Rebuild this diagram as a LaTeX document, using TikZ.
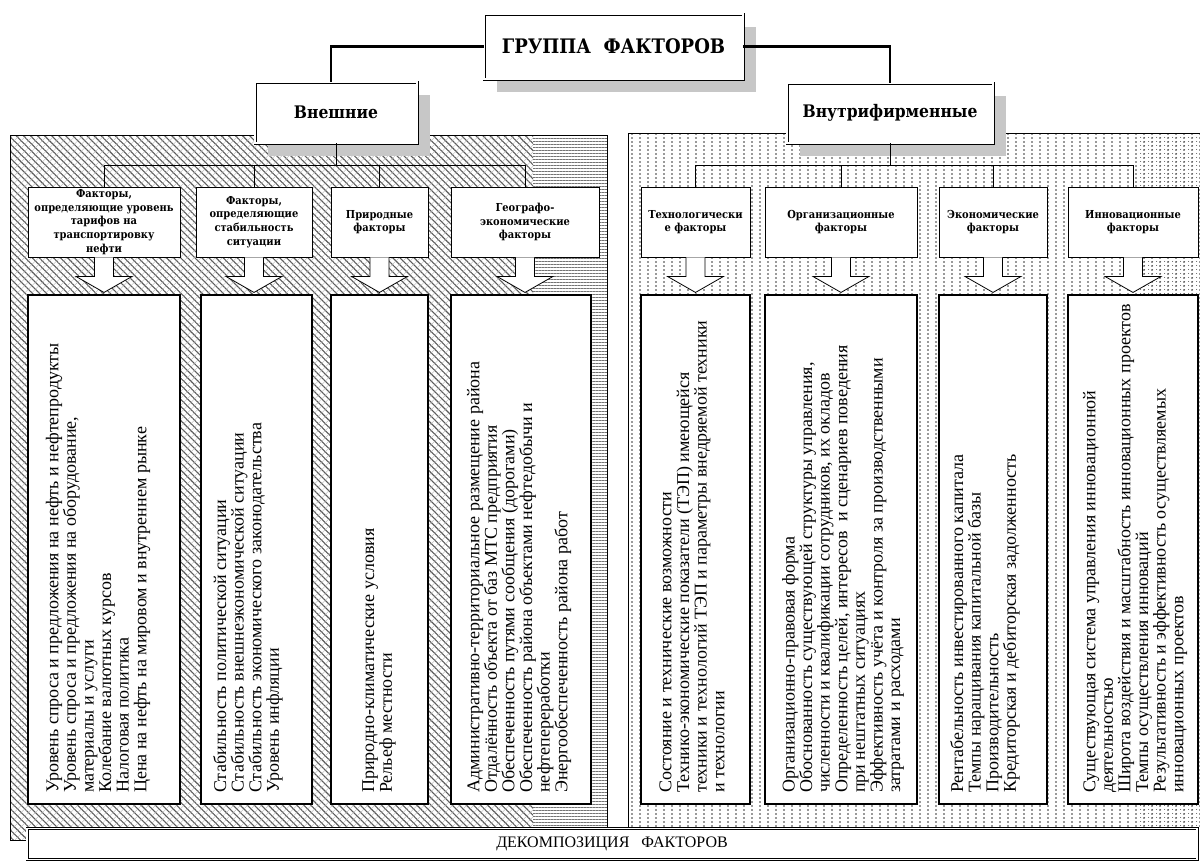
\documentclass[tikz,border=0pt]{standalone}
\usepackage{fontspec}
\setmainfont{Liberation Serif}
\newfontfamily\bserif{DejaVu Serif Condensed}
\usetikzlibrary{patterns.meta,shadows}
\begin{document}
\begin{tikzpicture}[x=1pt,y=-1pt,
  bigbox/.style={draw, double, double distance=1.4pt, line width=0.8pt, fill=white, inner sep=0pt,
    font=\bserif\bfseries\fontsize{17.3}{21}\selectfont,
    drop shadow={shadow xshift=13pt, shadow yshift=-13pt, fill=black!22, opacity=1}},
  catbox/.style={draw, fill=white, line width=0.9pt, inner sep=0pt, align=center,
    minimum height=70pt, font=\bserif\bfseries\fontsize{11}{13.6}\selectfont},
  contbox/.style={draw, fill=white, line width=1.1pt, inner sep=0pt, minimum height=509pt},
  conttext/.style={rotate=90, anchor=west, inner sep=0pt, align=left,
    font=\fontsize{18}{17.6}\selectfont},
  thickconn/.style={line width=2.4pt},
  thinconn/.style={line width=0.8pt},
  panelborder/.style={draw=black, line width=0.8pt},
  barrow/.pic={\draw[fill=white, line width=0.8pt] (-9.5,0) -- (-9.5,19) -- (-28,19) -- (0,35) -- (28,19) -- (9.5,19) -- (9.5,0);}
]
\useasboundingbox (0,0) rectangle (1200,862);
\fill[white] (0,0) rectangle (1200,862);

% ---------- left panel (hatched)
\fill[white] (10,135) rectangle (607,840);
\pattern[pattern={Lines[angle=-45,distance=5pt,line width=1.1pt]}, pattern color=black!65] (10,135) rectangle (533,840);
\pattern[pattern={Lines[angle=45,distance=5pt,line width=0.35pt]}, pattern color=black!30] (10,135) rectangle (533,840);
\pattern[pattern={Lines[angle=0,distance=3pt,line width=1pt]}, pattern color=black!55] (533,135) rectangle (607,840);
\draw[panelborder] (10,135) rectangle (607,840);

% ---------- right panel (dotted)
\fill[white] (628,133) rectangle (1203,828);
\pattern[pattern={Dots[distance=8pt,radius=0.8pt]}, pattern color=black!80] (628,133) rectangle (1203,828);
\pattern[pattern={Dots[distance=8pt,radius=0.8pt,xshift=0pt,yshift=4pt]}, pattern color=black!80] (628,133) rectangle (1203,828);
\pattern[pattern={Dots[distance=4pt,radius=0.6pt,xshift=1pt,yshift=1pt]}, pattern color=black!65] (1140,133) rectangle (1203,828);
\draw[panelborder] (628,828) -- (628,133) -- (1203,133);

% ---------- top level
\node[bigbox, minimum width=259pt, minimum height=65pt, font=\bserif\bfseries\fontsize{20}{24}\selectfont] (g) at (613.5,46.5) {ГРУППА\ \ ФАКТОРОВ};
\node[bigbox, minimum width=162pt, minimum height=61pt] (vn) at (336,112.5) {Внешние};
\node[bigbox, minimum width=206pt, minimum height=60pt] (vf) at (890,113) {Внутрифирменные};
\draw[thickconn] (g.west) -| ([xshift=-5pt]vn.north);
\draw[thickconn] (g.east) -| (vf.north);

% ---------- left category boxes
\node[catbox, minimum width=152pt] (L1) at (104,222) {Факторы,\\определяющие уровень\\тарифов на\\транспортировку\\нефти};
\node[catbox, minimum width=116pt] (L2) at (254,222) {Факторы,\\определяющие\\стабильность\\ситуации};
\node[catbox, minimum width=97pt] (L3) at (379.5,222) {Природные\\факторы};
\node[catbox, minimum width=148pt] (L4) at (525,222) {Географо-\\экономические\\факторы};

\path (L1.north) ++(0,-21) coordinate (busL);
\draw[thinconn] (vn.south) -- (vn.south |- busL);
\draw[thinconn] (L1.north) -- (busL) -| (L4.north);
\draw[thinconn] (L2.north) -- (L2.north |- busL);
\draw[thinconn] (L3.north) -- (L3.north |- busL);

% ---------- right category boxes
\node[catbox, minimum width=109pt] (R1) at (695.5,222) {Технологически\\е факторы};
\node[catbox, minimum width=152pt] (R2) at (841,222) {Организационные\\факторы};
\node[catbox, minimum width=108pt] (R3) at (993,222) {Экономические\\факторы};
\node[catbox, minimum width=130pt] (R4) at (1133,222) {Инновационные\\факторы};

\path (R1.north) ++(0,-21) coordinate (busR);
\draw[thinconn] (vf.south) -- (vf.south |- busR);
\draw[thinconn] (R1.north) -- (busR) -| (R4.north);
\draw[thinconn] (R2.north) -- (R2.north |- busR);
\draw[thinconn] (R3.north) -- (R3.north |- busR);

% ---------- block arrows
\foreach \b in {L1,L2,L3,L4,R1,R2,R3,R4} { \pic at (\b.south) {barrow}; }

% ---------- content boxes
\node[contbox, minimum width=152pt] (cL1) at (104,549.5) {};
\node[contbox, minimum width=111pt] (cL2) at (256.5,549.5) {};
\node[contbox, minimum width=97pt] (cL3) at (379.5,549.5) {};
\node[contbox, minimum width=140pt] (cL4) at (521,549.5) {};
\node[contbox, minimum width=109pt] (cR1) at (695.5,549.5) {};
\node[contbox, minimum width=152pt] (cR2) at (841,549.5) {};
\node[contbox, minimum width=108pt] (cR3) at (993,549.5) {};
\node[contbox, minimum width=130pt] (cR4) at (1133,549.5) {};

\node[conttext] (tL1) at (98,793) {Уровень спроса и предложения на нефть и нефтепродукты\\Уровень спроса и предложения на оборудование,\\материалы и услуги\\Колебание валютных курсов\\Налоговая политика\\Цена на нефть на мировом и внутреннем рынке};
\node[conttext] (tL2) at (248,793) {Стабильность политической ситуации\\Стабильность внешнеэкономической ситуации\\Стабильность экономического законодательства\\Уровень инфляции};
\node[conttext] (tL3) at (379,793) {Природно-климатические условия\\Рельеф местности};
\node[conttext] (tL4) at (519,793) {Административно-территориальное размещение района\\Отдалённость объекта от баз МТС предприятия\\Обеспеченность путями сообщения (дорогами)\\Обеспеченность района объектами нефтедобычи и\\нефтепереработки\\Энергообеспеченность района работ};
\node[conttext] (tR1) at (692,793) {Состояние и технические возможности\\Технико-экономические показатели (ТЭП) имеющейся\\техники и технологий ТЭП и параметры внедряемой техники\\и технологии};
\node[conttext] (tR2) at (843,793) {Организационно-правовая форма\\Обоснованность существующей структуры управления,\\численности и квалификации сотрудников, их окладов\\Определенность целей, интересов\ \ и сценариев поведения\\при нештатных ситуациях\\Эффективность учёта и контроля за производственными\\затратами и расходами};
\node[conttext] (tR3) at (985,793) {Рентабельность инвестированного капитала\\Темпы наращивания капитальной базы\\Производительность\\Кредиторская и дебиторская задолженность};
\node[conttext] (tR4) at (1135,793) {Существующая система управления инновационной\\деятельностью\\Широта воздействия и масштабность инновационных проектов\\Темпы осуществления инноваций\\Результативность и эффективность осуществляемых\\инновационных проектов};

% ---------- bottom bar
\node[draw, double, double distance=1.4pt, line width=0.8pt, fill=white, inner sep=0pt,
  minimum width=1170pt, minimum height=31pt, font=\fontsize{16}{18}\selectfont] (dk) at (612,844) {ДЕКОМПОЗИЦИЯ\ \ \ ФАКТОРОВ};
\end{tikzpicture}
\end{document}
